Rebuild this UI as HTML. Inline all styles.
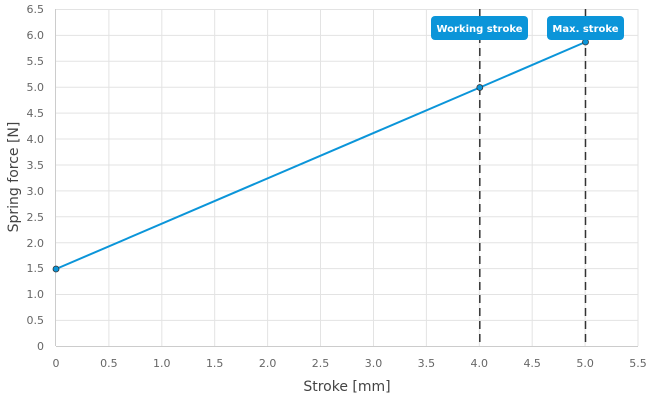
<!DOCTYPE html>
<html><head><style>body{margin:0;background:#fff}svg{display:block}</style></head><body>
<svg width="650" height="400" xmlns="http://www.w3.org/2000/svg" font-family="DejaVu Sans, sans-serif">
<g stroke="#e3e3e3" stroke-width="1">
<line x1="108.9" y1="9" x2="108.9" y2="346"/><line x1="161.8" y1="9" x2="161.8" y2="346"/><line x1="214.7" y1="9" x2="214.7" y2="346"/><line x1="267.6" y1="9" x2="267.6" y2="346"/><line x1="320.5" y1="9" x2="320.5" y2="346"/><line x1="373.5" y1="9" x2="373.5" y2="346"/><line x1="426.4" y1="9" x2="426.4" y2="346"/><line x1="479.3" y1="9" x2="479.3" y2="346"/><line x1="532.2" y1="9" x2="532.2" y2="346"/><line x1="585.1" y1="9" x2="585.1" y2="346"/><line x1="638" y1="9" x2="638" y2="346"/>
<line x1="56" y1="9.5" x2="638" y2="9.5"/><line x1="56" y1="35.4" x2="638" y2="35.4"/><line x1="56" y1="61.3" x2="638" y2="61.3"/><line x1="56" y1="87.2" x2="638" y2="87.2"/><line x1="56" y1="113.1" x2="638" y2="113.1"/><line x1="56" y1="139" x2="638" y2="139"/><line x1="56" y1="165" x2="638" y2="165"/><line x1="56" y1="190.9" x2="638" y2="190.9"/><line x1="56" y1="216.8" x2="638" y2="216.8"/><line x1="56" y1="242.7" x2="638" y2="242.7"/><line x1="56" y1="268.6" x2="638" y2="268.6"/><line x1="56" y1="294.5" x2="638" y2="294.5"/><line x1="56" y1="320.4" x2="638" y2="320.4"/>
</g>
<line x1="56" y1="346.5" x2="638" y2="346.5" stroke="#ccc"/>
<line x1="55.5" y1="9" x2="55.5" y2="346" stroke="#ccc"/>
<g fill="#666" font-size="11" text-anchor="end">
<text x="44" y="13">6.5</text><text x="44" y="39">6.0</text><text x="44" y="65">5.5</text><text x="44" y="91">5.0</text><text x="44" y="117">4.5</text><text x="44" y="143">4.0</text><text x="44" y="169">3.5</text><text x="44" y="195">3.0</text><text x="44" y="221">2.5</text><text x="44" y="247">2.0</text><text x="44" y="272">1.5</text><text x="44" y="298">1.0</text><text x="44" y="324">0.5</text><text x="44" y="350">0</text>
</g>
<g fill="#666" font-size="11" text-anchor="middle">
<text x="56" y="367">0</text><text x="108.9" y="367">0.5</text><text x="161.8" y="367">1.0</text><text x="214.7" y="367">1.5</text><text x="267.6" y="367">2.0</text><text x="320.5" y="367">2.5</text><text x="373.5" y="367">3.0</text><text x="426.4" y="367">3.5</text><text x="479.3" y="367">4.0</text><text x="532.2" y="367">4.5</text><text x="585.1" y="367">5.0</text><text x="638" y="367">5.5</text>
</g>
<text x="347" y="391" font-size="14" fill="#444" text-anchor="middle">Stroke [mm]</text>
<text transform="translate(18,177) rotate(-90)" font-size="14" fill="#444" text-anchor="middle">Spring force [N]</text>
<line x1="479.8" y1="9" x2="479.8" y2="346" stroke="#333" stroke-width="1.5" stroke-dasharray="8,5"/>
<line x1="585.5" y1="9" x2="585.5" y2="346" stroke="#333" stroke-width="1.5" stroke-dasharray="8,5"/>
<polyline points="56,269 479.8,87.5 585.5,42" fill="none" stroke="#0b95d9" stroke-width="2"/>
<g fill="#0b95d9" stroke="#333" stroke-width="0.8"><circle cx="56" cy="269" r="3"/><circle cx="479.8" cy="87.5" r="3"/><circle cx="585.5" cy="42" r="3"/></g>
<rect x="431" y="16" width="97" height="24" rx="4" fill="#0b95d9"/>
<rect x="547" y="16" width="77" height="24" rx="4" fill="#0b95d9"/>
<g fill="#fff" font-size="10" font-weight="bold" text-anchor="middle">
<text x="479.5" y="32">Working stroke</text><text x="585.5" y="32">Max. stroke</text>
</g>
</svg>
</body></html>
